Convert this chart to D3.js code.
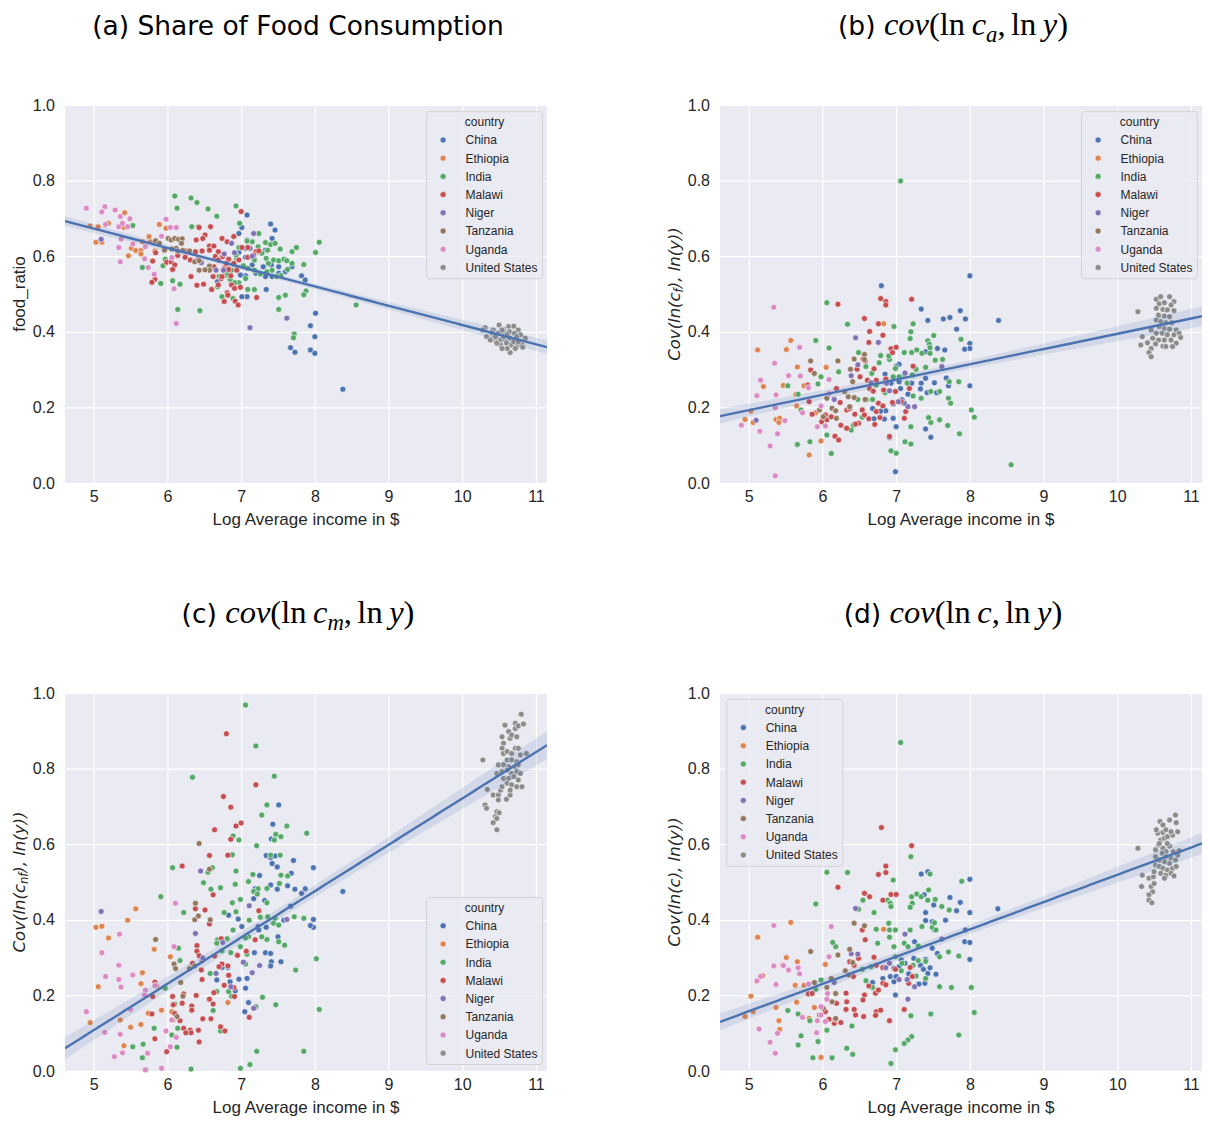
<!DOCTYPE html>
<html><head><meta charset="utf-8">
<script src="https://cdn.jsdelivr.net/npm/d3@7"></script>
<style>body{margin:0;background:#fff}</style>
</head><body>
<svg id="chart" width="1208" height="1121"></svg>
<script>
const countries = ["China","Ethiopia","India","Malawi","Niger","Tanzania","Uganda","United States"];
const palette = ["#4C72B0","#DD8452","#55A868","#C44E52","#8172B3","#937860","#DA8BC3","#8C8C8C"];
const xTicks = [5,6,7,8,9,10,11];
const yTicks = [0,0.2,0.4,0.6,0.8,1.0];
const xDomain = [4.61, 11.15];
const yDomain = [0, 1];

// regression fits: [intercept, slope]
const fitA = [0.928, -0.051];
const fitB = [-0.0093, 0.0404];
const fitC = [-0.505, 0.1226];
const fitD = [-0.203, 0.0722];

// ---------- panel (a): food ratio ----------
const aChina = [[7.08,.709],[7.40,.685],[7.46,.669],[7.42,.647],[7.08,.643],[6.97,.660],[7.01,.676],[7.06,.621],[6.97,.610],[7.12,.621],[7.25,.612],[7.33,.616],[7.06,.597],[7.17,.594],[7.15,.577],[7.30,.572],[7.41,.577],[7.51,.572],[7.60,.590],[7.69,.572],[7.60,.559],[7.51,.555],[7.42,.546],[7.33,.546],[7.20,.555],[7.06,.548],[6.68,.533],[6.79,.563],[6.87,.533],[6.99,.550],[7.08,.493],[7.01,.493],[7.34,.512],[7.82,.548],[7.87,.537],[8.01,.449],[7.94,.416],[8.00,.387],[7.67,.358],[7.73,.346],[7.94,.352],[8.00,.343],[8.38,.248]];
const aEthiopia = [[4.95,.680],[5.06,.678],[5.20,.687],[5.42,.715],[5.03,.637],[5.11,.637],[5.41,.676],[5.47,.601],[5.51,.621],[5.57,.615],[5.64,.615],[5.66,.638],[5.75,.652],[5.77,.638],[5.83,.614],[5.89,.684],[5.98,.674],[5.64,.606]];
const aIndia = [[6.10,.759],[6.32,.754],[6.40,.742],[6.55,.725],[6.67,.706],[6.93,.733],[6.98,.687],[6.13,.727],[5.53,.681],[6.33,.678],[6.42,.678],[5.66,.570],[5.94,.575],[5.97,.592],[5.91,.528],[6.07,.535],[6.17,.526],[6.14,.459],[6.44,.456],[6.60,.513],[6.74,.493],[6.89,.488],[7.09,.512],[7.18,.512],[7.24,.660],[7.15,.638],[7.23,.625],[7.33,.636],[7.36,.616],[7.40,.631],[7.46,.634],[7.53,.619],[7.34,.594],[7.37,.581],[7.44,.590],[7.51,.588],[7.58,.592],[7.62,.588],[7.69,.581],[7.63,.565],[7.54,.549],[7.48,.546],[7.42,.563],[7.35,.559],[7.26,.553],[7.18,.563],[7.06,.541],[6.97,.530],[6.91,.530],[6.85,.539],[6.78,.548],[6.70,.546],[6.68,.519],[7.09,.568],[7.03,.575],[7.18,.590],[7.28,.608],[7.69,.612],[7.75,.623],[7.85,.578],[8.01,.610],[8.06,.637],[7.88,.508],[7.85,.498],[7.51,.491],[7.60,.497],[7.51,.459],[7.72,.394],[7.71,.384],[7.08,.640],[6.97,.623],[6.94,.592],[6.87,.563],[6.82,.552],[6.93,.603],[8.56,.471]];
const aMalawi = [[6.43,.676],[6.585,.678],[6.51,.656],[6.39,.643],[6.48,.647],[6.57,.627],[6.63,.627],[6.74,.647],[6.81,.638],[6.90,.652],[7.00,.718],[6.38,.612],[6.47,.614],[6.57,.616],[6.69,.612],[6.75,.599],[6.65,.599],[5.80,.587],[5.84,.609],[5.99,.584],[6.05,.585],[6.10,.577],[6.07,.565],[6.24,.597],[6.31,.590],[6.25,.614],[6.14,.602],[6.32,.546],[6.40,.523],[6.49,.526],[6.62,.546],[6.73,.541],[6.77,.568],[6.83,.565],[6.86,.548],[6.94,.563],[6.87,.524],[6.91,.515],[6.81,.503],[6.77,.480],[6.92,.481],[6.96,.471],[6.99,.518],[7.21,.491],[7.09,.623],[7.01,.623],[7.20,.612],[7.24,.614],[7.09,.597],[5.83,.539],[5.79,.531],[6.41,.590],[6.63,.572],[6.69,.590],[6.83,.592],[6.97,.590],[7.17,.603],[6.90,.581],[6.80,.581],[6.74,.546],[6.69,.524],[6.60,.512],[6.82,.497]];
const aNiger = [[5.10,.645],[7.17,.660],[6.91,.609],[6.87,.634],[6.77,.606],[7.15,.600],[6.66,.563],[7.62,.436],[7.12,.411],[6.76,.563],[6.46,.583]];
const aTanzania = [[5.84,.641],[5.89,.634],[5.96,.616],[6.01,.647],[6.05,.643],[6.10,.647],[6.15,.645],[6.20,.646],[6.19,.634],[6.12,.621],[6.06,.619],[6.14,.614],[6.21,.615],[6.30,.614],[6.37,.585],[6.43,.588],[6.43,.563],[6.57,.574],[6.57,.563],[6.51,.564]];
const aUganda = [[4.90,.727],[5.15,.731],[5.11,.717],[5.29,.722],[5.36,.705],[5.49,.699],[5.16,.684],[5.34,.678],[5.39,.687],[5.46,.678],[5.37,.645],[5.34,.623],[5.53,.632],[5.70,.625],[5.69,.593],[5.74,.570],[5.36,.585],[5.82,.552],[6.09,.514],[5.98,.698],[5.92,.653],[6.04,.676],[6.12,.676],[6.12,.422],[6.06,.596]];
const aUS = [[10.31,.411],[10.42,.405],[10.50,.418],[10.56,.407],[10.63,.414],[10.70,.415],[10.76,.405],[10.33,.387],[10.42,.392],[10.49,.396],[10.57,.396],[10.64,.400],[10.71,.396],[10.79,.392],[10.855,.383],[10.45,.377],[10.52,.378],[10.58,.380],[10.65,.383],[10.73,.380],[10.81,.374],[10.52,.365],[10.60,.370],[10.67,.365],[10.74,.361],[10.81,.365],[10.65,.345],[10.72,.356],[10.47,.370],[10.38,.378],[10.61,.356],[10.56,.387],[10.40,.398],[10.70,.374],[10.76,.374],[10.82,.359],[10.28,.405],[10.45,.387],[10.54,.405],[10.61,.392],[10.74,.387],[10.54,.356]];

// ---------- panel (b): cov(ln c_a, ln y) ----------
const bChina = [[6.80,.522],[8.00,.548],[8.39,.430],[7.34,.460],[7.43,.430],[7.64,.434],[7.73,.438],[7.82,.407],[7.87,.456],[7.94,.434],[8.00,.369],[8.00,.356],[7.93,.354],[7.66,.352],[7.56,.356],[7.40,.347],[7.04,.314],[7.00,.308],[6.85,.288],[6.93,.264],[7.04,.268],[7.06,.250],[7.16,.235],[7.08,.220],[6.96,.209],[6.86,.191],[6.79,.190],[6.68,.197],[6.84,.169],[6.96,.171],[7.00,.149],[7.34,.264],[7.40,.277],[7.52,.265],[7.55,.239],[7.42,.239],[7.33,.249],[7.21,.264],[7.68,.278],[7.71,.257],[8.00,.257],[7.40,.143],[7.47,.121],[6.91,.120],[6.99,.030],[6.70,.170],[7.11,.211]];
const bEthiopia = [[5.12,.352],[5.57,.377],[5.51,.353],[5.66,.307],[5.47,.258],[5.64,.235],[5.75,.257],[5.65,.204],[5.03,.190],[4.95,.168],[5.06,.160],[5.37,.168],[5.42,.171],[5.41,.160],[6.05,.306],[5.82,.074],[5.98,.111],[5.91,.186],[6.83,.421],[5.20,.255]];
const bIndia = [[7.06,.799],[6.06,.477],[6.34,.420],[5.91,.377],[6.09,.357],[6.97,.414],[7.23,.421],[7.20,.400],[7.19,.382],[7.51,.390],[7.43,.376],[7.45,.367],[7.46,.358],[6.49,.345],[6.59,.308],[6.67,.290],[6.77,.318],[6.79,.337],[6.91,.327],[6.90,.336],[6.99,.303],[7.11,.345],[7.21,.345],[7.28,.352],[7.35,.343],[7.46,.343],[7.53,.325],[7.63,.327],[7.27,.301],[7.40,.306],[7.22,.286],[7.11,.288],[7.04,.281],[7.15,.264],[7.23,.230],[7.34,.224],[7.47,.242],[7.59,.242],[7.72,.268],[7.85,.268],[7.71,.224],[7.74,.211],[7.88,.380],[8.02,.193],[8.06,.174],[7.86,.130],[7.70,.152],[7.59,.167],[7.47,.160],[7.44,.173],[7.20,.149],[7.12,.109],[7.20,.103],[7.00,.079],[6.93,.085],[6.32,.145],[6.39,.140],[6.42,.153],[6.48,.221],[6.60,.220],[6.68,.221],[6.85,.239],[6.96,.281],[6.73,.259],[6.22,.294],[5.98,.281],[5.94,.262],[5.67,.235],[5.53,.257],[5.71,.193],[5.83,.109],[6.06,.127],[6.12,.078],[5.66,.102],[6.54,.174],[6.54,.195],[8.56,.048]];
const bMalawi = [[6.21,.473],[6.79,.488],[6.86,.480],[6.86,.471],[7.21,.486],[6.57,.435],[6.64,.401],[6.76,.421],[6.82,.391],[6.93,.355],[7.00,.359],[6.95,.345],[6.63,.372],[6.55,.328],[6.58,.323],[6.47,.301],[6.51,.281],[6.61,.272],[6.70,.302],[6.73,.272],[6.64,.250],[6.86,.275],[6.83,.246],[6.76,.211],[6.82,.204],[6.73,.189],[6.78,.173],[6.71,.155],[6.54,.193],[6.57,.180],[6.63,.170],[6.49,.158],[6.44,.182],[6.33,.193],[6.37,.197],[6.24,.213],[6.19,.250],[6.04,.180],[5.99,.162],[6.06,.167],[6.12,.175],[6.17,.124],[6.22,.114],[6.25,.153],[6.33,.145],[6.45,.156],[6.91,.123],[7.11,.171],[7.23,.309],[7.18,.250],[7.07,.215],[6.95,.213],[6.99,.242],[5.84,.299],[5.80,.259],[5.86,.182],[5.82,.215],[6.69,.243],[7.13,.189]];
const bNiger = [[5.10,.166],[6.45,.384],[6.76,.372],[6.48,.313],[6.39,.284],[6.66,.265],[6.87,.264],[7.03,.215],[7.16,.202],[7.25,.202],[7.12,.291],[7.62,.308],[6.16,.221],[6.91,.244]];
const bTanzania = [[5.84,.323],[6.21,.323],[5.89,.290],[6.43,.328],[6.57,.340],[6.57,.327],[6.38,.301],[6.41,.268],[6.30,.242],[6.35,.228],[6.43,.226],[6.58,.221],[6.06,.224],[5.96,.193],[6.01,.175],[6.13,.198],[6.18,.191],[6.19,.171],[6.37,.202]];
const bUganda = [[5.34,.465],[5.69,.359],[5.35,.317],[5.54,.284],[5.70,.283],[5.16,.272],[5.11,.231],[5.37,.233],[5.36,.199],[5.81,.252],[6.09,.274],[5.73,.186],[5.98,.204],[5.93,.149],[6.04,.151],[5.49,.165],[4.90,.153],[5.15,.137],[5.39,.130],[5.29,.098],[5.36,.019],[6.09,.237]];
const bUS = [[10.53,.486],[10.59,.493],[10.71,.493],[10.77,.480],[10.57,.474],[10.64,.477],[10.73,.471],[10.53,.462],[10.62,.459],[10.68,.458],[10.77,.456],[10.56,.444],[10.64,.442],[10.71,.440],[10.53,.431],[10.59,.427],[10.66,.424],[10.74,.424],[10.57,.414],[10.64,.409],[10.71,.407],[10.80,.405],[10.46,.405],[10.53,.396],[10.61,.396],[10.68,.392],[10.77,.392],[10.84,.396],[10.86,.385],[10.34,.387],[10.48,.383],[10.56,.378],[10.64,.378],[10.73,.378],[10.80,.370],[10.41,.371],[10.52,.368],[10.62,.362],[10.32,.365],[10.46,.356],[10.43,.345],[10.46,.334],[10.66,.361],[10.75,.361],[10.28,.453]];

// ---------- panel (c): cov(ln c_m, ln y) ----------
const cChina = [[7.51,.704],[7.43,.653],[7.41,.614],[7.34,.570],[7.40,.565],[7.46,.569],[7.42,.549],[7.49,.540],[7.71,.557],[7.68,.523],[7.98,.538],[7.25,.517],[7.19,.482],[7.17,.456],[7.32,.451],[7.40,.492],[7.49,.481],[7.63,.490],[7.73,.481],[7.82,.470],[7.87,.482],[7.67,.436],[7.58,.399],[7.34,.380],[7.23,.382],[7.01,.382],[6.96,.402],[6.83,.412],[6.82,.274],[6.74,.274],[6.85,.236],[6.97,.243],[7.08,.245],[7.06,.219],[6.92,.212],[6.67,.241],[7.10,.181],[7.05,.157],[7.18,.313],[7.33,.313],[7.40,.311],[7.50,.355],[7.54,.289],[7.41,.289],[7.40,.278],[7.98,.401],[7.98,.380],[7.94,.385],[8.38,.475],[7.24,.373]];
const cEthiopia = [[5.57,.429],[5.46,.399],[5.03,.380],[5.11,.383],[5.20,.352],[5.82,.322],[6.04,.302],[5.66,.260],[5.06,.223],[5.64,.231],[5.92,.161],[5.74,.153],[4.95,.128],[5.36,.135],[5.64,.123],[5.50,.116],[5.41,.067],[6.06,.157],[6.82,.181]];
const cIndia = [[7.06,.968],[7.20,.860],[6.34,.777],[7.45,.780],[7.35,.704],[7.28,.677],[7.62,.648],[7.89,.629],[6.89,.622],[6.97,.611],[7.47,.626],[7.45,.611],[7.54,.620],[7.21,.596],[6.88,.572],[7.40,.571],[7.53,.571],[6.07,.538],[6.93,.529],[6.55,.526],[6.61,.538],[7.16,.520],[7.10,.501],[6.49,.498],[6.72,.485],[6.59,.481],[6.92,.494],[7.23,.482],[7.35,.483],[7.17,.475],[7.22,.468],[6.99,.454],[7.54,.518],[7.63,.516],[7.52,.496],[7.35,.445],[5.91,.461],[6.22,.419],[6.77,.419],[6.93,.421],[6.88,.445],[7.11,.399],[7.26,.407],[7.36,.408],[7.44,.391],[7.46,.404],[7.51,.386],[7.72,.408],[7.85,.404],[6.89,.373],[7.10,.355],[7.06,.352],[6.81,.350],[6.68,.347],[6.67,.338],[6.74,.318],[6.86,.313],[6.99,.329],[7.35,.348],[7.51,.342],[7.59,.333],[7.74,.267],[8.02,.297],[8.06,.163],[7.29,.195],[7.47,.175],[7.20,.170],[6.87,.198],[6.83,.210],[6.67,.210],[6.58,.258],[6.15,.325],[6.17,.292],[5.97,.219],[6.10,.177],[6.14,.113],[6.06,.095],[6.13,.063],[5.82,.113],[5.67,.071],[5.53,.064],[5.66,.035],[5.71,.003],[6.32,.005],[6.62,.160],[6.72,.106],[6.99,.007],[7.12,.017],[7.21,.052],[7.85,.052],[7.08,.309],[7.06,.283],[7.28,.355]];
const cMalawi = [[6.80,.892],[7.20,.757],[6.76,.726],[6.86,.698],[7.00,.656],[6.93,.648],[6.64,.638],[6.86,.613],[6.57,.570],[6.82,.571],[6.20,.542],[6.62,.466],[6.51,.426],[6.38,.429],[6.57,.389],[7.24,.424],[6.73,.350],[6.40,.332],[6.40,.317],[6.43,.305],[6.47,.292],[6.34,.285],[6.46,.267],[6.47,.242],[6.64,.304],[6.74,.283],[6.70,.276],[6.82,.278],[6.83,.253],[6.77,.227],[6.90,.221],[6.95,.306],[7.07,.317],[7.19,.347],[5.83,.235],[5.85,.225],[5.80,.197],[6.07,.197],[6.22,.204],[6.39,.200],[6.08,.175],[6.20,.179],[6.33,.172],[6.33,.161],[5.79,.151],[6.10,.152],[6.08,.135],[6.17,.133],[6.48,.138],[6.59,.138],[6.63,.207],[6.57,.190],[6.62,.177],[6.72,.117],[6.78,.106],[6.22,.113],[6.31,.108],[6.42,.108],[6.32,.101],[6.25,.101],[5.83,.085],[5.99,.051],[6.43,.077],[7.11,.142],[6.91,.197]];
const cNiger = [[5.10,.422],[6.45,.529],[7.11,.437],[6.38,.364],[6.48,.299],[6.66,.258],[6.86,.223],[7.03,.288],[7.15,.260],[7.25,.279],[7.17,.166],[7.62,.401],[6.75,.340]];
const cTanzania = [[6.43,.602],[6.57,.534],[6.38,.444],[6.37,.400],[6.42,.410],[6.58,.400],[5.84,.348],[6.09,.283],[6.11,.271],[6.18,.234],[6.30,.271],[6.37,.278],[6.21,.198],[6.13,.144],[6.07,.135]];
const cUganda = [[6.11,.444],[5.35,.362],[5.11,.313],[6.09,.329],[5.34,.280],[5.16,.250],[5.37,.222],[5.53,.254],[5.70,.214],[5.69,.201],[5.83,.226],[5.50,.163],[4.90,.157],[5.36,.097],[5.15,.102],[5.28,.038],[5.39,.048],[5.73,.047],[5.92,.007],[5.70,.003],[5.98,.106],[6.04,.064],[6.12,.089],[6.06,.135],[5.34,.242]];
const cUS = [[10.28,.823],[10.34,.745],[10.42,.730],[10.49,.730],[10.52,.743],[10.49,.717],[10.60,.719],[10.65,.730],[10.31,.704],[10.33,.695],[10.47,.686],[10.50,.683],[10.45,.673],[10.42,.657],[10.47,.638],[10.47,.668],[10.54,.884],[10.56,.867],[10.54,.854],[10.56,.840],[10.61,.845],[10.65,.880],[10.58,.915],[10.63,.898],[10.72,.920],[10.72,.906],[10.76,.913],[10.83,.918],[10.80,.944],[10.67,.889],[10.74,.884],[10.72,.854],[10.76,.854],[10.67,.840],[10.79,.836],[10.87,.840],[10.61,.823],[10.67,.823],[10.74,.818],[10.49,.810],[10.56,.810],[10.63,.805],[10.72,.805],[10.76,.810],[10.47,.787],[10.54,.792],[10.61,.796],[10.67,.787],[10.74,.792],[10.79,.787],[10.56,.774],[10.63,.774],[10.70,.779],[10.76,.770],[10.61,.761],[10.67,.757],[10.74,.752],[10.81,.752],[10.65,.743],[10.54,.752]];

// ---------- panel (d): cov(ln c, ln y) ----------
const dChina = [[7.34,.521],[7.43,.527],[8.00,.507],[8.38,.429],[7.38,.466],[7.51,.439],[7.40,.419],[7.40,.398],[7.49,.395],[7.52,.373],[7.67,.399],[7.73,.459],[7.82,.424],[7.87,.446],[7.94,.373],[8.00,.419],[7.93,.342],[8.00,.340],[8.00,.295],[7.54,.256],[7.40,.295],[7.33,.280],[7.37,.269],[7.46,.273],[7.43,.258],[7.24,.298],[7.12,.285],[7.04,.276],[7.07,.294],[6.99,.201],[6.82,.245],[6.92,.250],[6.97,.236],[7.00,.250],[6.86,.228],[6.68,.234],[7.17,.257],[7.31,.230],[7.39,.232],[7.56,.311],[7.49,.325],[7.25,.342],[6.97,.272]];
const dEthiopia = [[5.57,.393],[5.12,.354],[5.51,.300],[5.66,.289],[5.46,.280],[6.04,.282],[5.19,.252],[5.63,.227],[5.75,.227],[5.65,.182],[5.03,.198],[4.95,.144],[5.06,.157],[5.37,.168],[5.41,.133],[5.42,.110],[5.89,.168],[5.82,.139],[5.98,.036],[6.83,.375]];
const dIndia = [[7.06,.869],[7.20,.567],[6.06,.526],[6.34,.525],[5.91,.442],[6.96,.505],[6.55,.452],[6.49,.428],[6.70,.419],[6.88,.452],[6.92,.444],[6.93,.435],[7.21,.461],[7.28,.468],[7.22,.444],[7.19,.433],[7.34,.461],[7.44,.479],[7.46,.521],[7.53,.454],[7.43,.452],[7.62,.435],[7.72,.426],[7.89,.502],[7.19,.373],[6.90,.391],[6.91,.373],[6.99,.373],[6.73,.375],[6.75,.338],[6.91,.354],[6.97,.329],[7.11,.338],[7.16,.329],[7.30,.331],[7.35,.382],[7.49,.380],[7.52,.392],[7.54,.373],[7.59,.302],[7.71,.315],[7.85,.304],[7.30,.292],[7.40,.290],[7.23,.280],[6.99,.302],[7.08,.285],[7.07,.265],[7.27,.251],[7.40,.245],[7.59,.223],[7.75,.221],[8.02,.221],[8.06,.155],[7.47,.151],[7.20,.146],[7.21,.091],[7.16,.082],[7.11,.073],[6.99,.056],[6.93,.020],[6.73,.148],[6.68,.221],[6.59,.239],[6.54,.269],[6.18,.329],[6.14,.340],[5.98,.241],[5.91,.216],[5.94,.078],[5.87,.035],[6.13,.035],[6.33,.060],[6.41,.044],[6.40,.119],[6.06,.108],[5.83,.133],[5.71,.093],[5.67,.069],[5.67,.151],[5.53,.160],[7.85,.095],[6.66,.276]];
const dMalawi = [[6.80,.644],[7.21,.596],[6.21,.486],[6.86,.542],[6.86,.525],[6.76,.520],[6.93,.467],[7.00,.467],[6.82,.452],[6.57,.470],[6.64,.461],[6.58,.347],[6.54,.373],[6.49,.298],[6.43,.280],[6.42,.250],[6.37,.289],[6.70,.301],[6.73,.280],[6.82,.273],[6.99,.269],[7.19,.274],[6.82,.232],[6.86,.228],[6.63,.225],[6.72,.206],[6.76,.214],[6.57,.201],[6.55,.188],[6.56,.144],[6.32,.206],[6.33,.183],[6.32,.163],[6.43,.163],[6.45,.148],[6.25,.128],[6.16,.126],[6.17,.137],[5.81,.204],[5.86,.205],[6.19,.179],[6.04,.157],[6.09,.137],[6.73,.157],[6.72,.147],[6.79,.161],[7.11,.163],[7.22,.250],[7.17,.232],[6.91,.133]];
const dNiger = [[6.45,.430],[6.48,.309],[6.39,.310],[7.12,.362],[6.91,.285],[6.86,.273],[7.04,.242],[7.15,.242],[7.25,.223],[7.16,.190],[7.62,.349],[6.16,.234]];
const dTanzania = [[5.84,.316],[6.21,.307],[6.43,.391],[6.57,.384],[6.37,.322],[6.41,.287],[6.31,.265],[6.36,.254],[6.12,.245],[6.06,.221],[6.18,.205],[5.96,.148],[6.01,.166],[6.13,.183],[6.18,.139],[5.89,.234]];
const dUganda = [[5.34,.385],[6.12,.382],[5.34,.278],[5.47,.279],[5.67,.273],[5.54,.267],[5.69,.257],[5.16,.250],[5.11,.238],[5.37,.229],[5.81,.230],[6.09,.302],[5.73,.142],[5.98,.170],[5.93,.133],[6.04,.131],[6.06,.190],[6.07,.205],[5.98,.148],[5.14,.111],[5.39,.100],[5.29,.076],[5.36,.047],[5.92,.101]];
const dUS = [[10.28,.589],[10.34,.518],[10.33,.488],[10.43,.510],[10.46,.488],[10.49,.514],[10.50,.496],[10.48,.474],[10.43,.466],[10.43,.452],[10.47,.445],[10.50,.527],[10.52,.545],[10.57,.541],[10.55,.558],[10.52,.585],[10.56,.598],[10.62,.589],[10.66,.580],[10.71,.595],[10.76,.580],[10.84,.583],[10.59,.611],[10.64,.616],[10.68,.620],[10.75,.624],[10.82,.633],[10.55,.629],[10.62,.631],[10.66,.638],[10.73,.633],[10.58,.660],[10.62,.651],[10.71,.664],[10.79,.677],[10.80,.657],[10.53,.638],[10.61,.576],[10.66,.567],[10.73,.563],[10.79,.558],[10.71,.549],[10.64,.554],[10.57,.558],[10.62,.536],[10.68,.532],[10.75,.536],[10.80,.541],[10.59,.523],[10.66,.518],[10.73,.523],[10.77,.516],[10.64,.510],[10.82,.571],[10.52,.567],[10.57,.602],[10.68,.602]];

// ---------- text ----------
const xLabel = "Log Average income in $";
const legendTitle = "country";
const titleA = [{t:"(a) Share of Food Consumption"}];
const titleB = [{t:"(b) "},{t:"cov",m:1,it:1},{t:"(ln\u2009",m:1},{t:"c",m:1,it:1},{t:"a",m:1,it:1,sub:1},{t:",\u2006ln\u2009",m:1},{t:"y",m:1,it:1},{t:")",m:1}];
const titleC = [{t:"(c) "},{t:"cov",m:1,it:1},{t:"(ln\u2009",m:1},{t:"c",m:1,it:1},{t:"m",m:1,it:1,sub:1},{t:",\u2006ln\u2009",m:1},{t:"y",m:1,it:1},{t:")",m:1}];
const titleD = [{t:"(d) "},{t:"cov",m:1,it:1},{t:"(ln\u2009",m:1},{t:"c",m:1,it:1},{t:",\u2006ln\u2009",m:1},{t:"y",m:1,it:1},{t:")",m:1}];
const yLabelA = [{t:"food_ratio"}];
const yLabelB = [{t:"Cov(ln(c",it:1},{t:"f",it:1,sub:1},{t:"), ln(y))",it:1}];
const yLabelC = [{t:"Cov(ln(c",it:1},{t:"nf",it:1,sub:1},{t:"), ln(y))",it:1}];
const yLabelD = [{t:"Cov(ln(c), ln(y))",it:1}];

const panels = [
  {left:65,  top:105, sets:[aChina,aEthiopia,aIndia,aMalawi,aNiger,aTanzania,aUganda,aUS], fit:fitA, title:titleA, ylab:yLabelA, ylabMath:false, legend:"ur"},
  {left:720, top:105, sets:[bChina,bEthiopia,bIndia,bMalawi,bNiger,bTanzania,bUganda,bUS], fit:fitB, title:titleB, ylab:yLabelB, ylabMath:true, legend:"ur"},
  {left:65,  top:693, sets:[cChina,cEthiopia,cIndia,cMalawi,cNiger,cTanzania,cUganda,cUS], fit:fitC, title:titleC, ylab:yLabelC, ylabMath:true, legend:"lr"},
  {left:720, top:693, sets:[dChina,dEthiopia,dIndia,dMalawi,dNiger,dTanzania,dUganda,dUS], fit:fitD, title:titleD, ylab:yLabelD, ylabMath:true, legend:"ul"}
];

const W = 482, H = 378;
const SANS = "'Liberation Sans', Arial, sans-serif";
const TSANS = "'DejaVu Sans', sans-serif";
const SERIF = "'Liberation Serif', 'Times New Roman', serif";
const MATH = "'DejaVu Sans', sans-serif";
const svg = d3.select("#chart");

function rich(textSel, parts, fam, size, mathFam, mathSize){
  let shift = 0;
  parts.forEach(p => {
    const fs = p.m ? mathSize : size;
    const ts = textSel.append("tspan").text(p.t)
      .attr("font-family", p.m ? mathFam : fam)
      .attr("font-style", p.it ? "italic" : "normal")
      .attr("font-size", p.sub ? fs*0.7 : fs);
    const target = p.sub ? fs*0.22 : 0;
    if (target !== shift) { ts.attr("dy", target - shift); shift = target; }
  });
}

panels.forEach((p, pi) => {
  const g = svg.append("g");
  const x = d3.scaleLinear().domain(xDomain).range([p.left, p.left + W]);
  const y = d3.scaleLinear().domain(yDomain).range([p.top + H, p.top]);
  const clipId = "clip" + pi;
  g.append("clipPath").attr("id", clipId).append("rect")
    .attr("x", p.left).attr("y", p.top).attr("width", W).attr("height", H);

  g.append("rect").attr("x", p.left).attr("y", p.top).attr("width", W).attr("height", H).attr("fill", "#EAEAF2");

  // grid
  g.append("g").attr("transform", `translate(0,${p.top + H})`)
    .call(d3.axisBottom(x).tickValues(xTicks).tickSize(-H).tickFormat(""))
    .call(s => { s.select(".domain").remove(); s.selectAll("line").attr("stroke", "#fff").attr("stroke-width", 1.2); });
  g.append("g").attr("transform", `translate(${p.left},0)`)
    .call(d3.axisLeft(y).tickValues(yTicks).tickSize(-W).tickFormat(""))
    .call(s => { s.select(".domain").remove(); s.selectAll("line").attr("stroke", "#fff").attr("stroke-width", 1.2); });

  // tick labels
  g.append("g").attr("transform", `translate(0,${p.top + H})`)
    .call(d3.axisBottom(x).tickValues(xTicks).tickSize(0).tickPadding(8).tickFormat(d3.format("d")))
    .call(s => { s.select(".domain").remove(); s.selectAll("text").attr("font-family", SANS).attr("font-size", 16).attr("fill", "#262626"); });
  g.append("g").attr("transform", `translate(${p.left},0)`)
    .call(d3.axisLeft(y).tickValues(yTicks).tickSize(0).tickPadding(10).tickFormat(d3.format(".1f")))
    .call(s => { s.select(".domain").remove(); s.selectAll("text").attr("font-family", SANS).attr("font-size", 16).attr("fill", "#262626"); });

  // points
  const pts = g.append("g");
  p.sets.forEach((set, ci) => {
    pts.selectAll(null).data(set).enter().append("circle")
      .attr("cx", d => x(d[0])).attr("cy", d => y(d[1])).attr("r", 3)
      .attr("fill", palette[ci]).attr("stroke", "#fff").attr("stroke-width", 0.6);
  });

  // regression line + CI band
  const all = p.sets.flat();
  const n = all.length;
  const mx = d3.mean(all, d => d[0]);
  const sxx = d3.sum(all, d => (d[0] - mx) ** 2);
  const f = xv => p.fit[0] + p.fit[1] * xv;
  const s = Math.sqrt(d3.sum(all, d => (d[1] - f(d[0])) ** 2) / (n - 2));
  const half = xv => 1.8 * s * Math.sqrt(1 / n + (xv - mx) ** 2 / sxx);
  const xs = d3.range(0, 101).map(i => xDomain[0] + (xDomain[1] - xDomain[0]) * i / 100);
  const fg = g.append("g").attr("clip-path", `url(#${clipId})`);
  fg.append("path").datum(xs)
    .attr("d", d3.area().x(d => x(d)).y0(d => y(f(d) - half(d))).y1(d => y(f(d) + half(d))))
    .attr("fill", "#4C72B0").attr("fill-opacity", 0.15);
  fg.append("path").datum(xs)
    .attr("d", d3.line().x(d => x(d)).y(d => y(f(d))))
    .attr("fill", "none").attr("stroke", "#4C72B0").attr("stroke-width", 2.4);

  // x label
  g.append("text").attr("x", p.left + W / 2).attr("y", p.top + H + 42)
    .attr("text-anchor", "middle").attr("font-family", SANS).attr("font-size", 17).attr("fill", "#262626").text(xLabel);

  // y label
  const yl = g.append("text").attr("transform", `translate(${p.left - 46},${p.top + H / 2}) rotate(-90)`)
    .attr("text-anchor", "middle").attr("dy", "0.35em").attr("fill", "#262626");
  if (p.ylabMath) rich(yl, p.ylab, MATH, 16.5, MATH, 16.5);
  else rich(yl, p.ylab, SANS, 17, SANS, 17);

  // title
  const tt = g.append("text").attr("x", p.left + 233).attr("y", p.top - 70)
    .attr("text-anchor", "middle").attr("fill", "#000");
  rich(tt, p.title, TSANS, 26.5, SERIF, 32.5);

  // legend
  const lw = 116, lh = 167;
  let lx, ly;
  if (p.legend === "ur") { lx = p.left + 361.5; ly = p.top + 6.7; }
  else if (p.legend === "lr") { lx = p.left + 361.5; ly = p.top + 204.5; }
  else { lx = p.left + 6.7; ly = p.top + 6.3; }
  const lg = g.append("g");
  lg.append("rect").attr("x", lx).attr("y", ly).attr("width", lw).attr("height", lh).attr("rx", 3)
    .attr("fill", "#EAEAF2").attr("fill-opacity", 0.8).attr("stroke", "#cccccc").attr("stroke-opacity", 0.8).attr("stroke-width", 1);
  lg.append("text").attr("x", lx + 58).attr("y", ly + 14.3).attr("text-anchor", "middle")
    .attr("font-family", SANS).attr("font-size", 12).attr("fill", "#262626").text(legendTitle);
  countries.forEach((c, i) => {
    const cy = ly + 28.3 + i * 18.2;
    lg.append("circle").attr("cx", lx + 16.6).attr("cy", cy).attr("r", 3).attr("fill", palette[i]).attr("stroke", "#fff").attr("stroke-width", 0.5);
    lg.append("text").attr("x", lx + 39).attr("y", cy + 4.3).attr("font-family", SANS).attr("font-size", 12).attr("fill", "#262626").text(c);
  });
});
</script>
</body></html>
